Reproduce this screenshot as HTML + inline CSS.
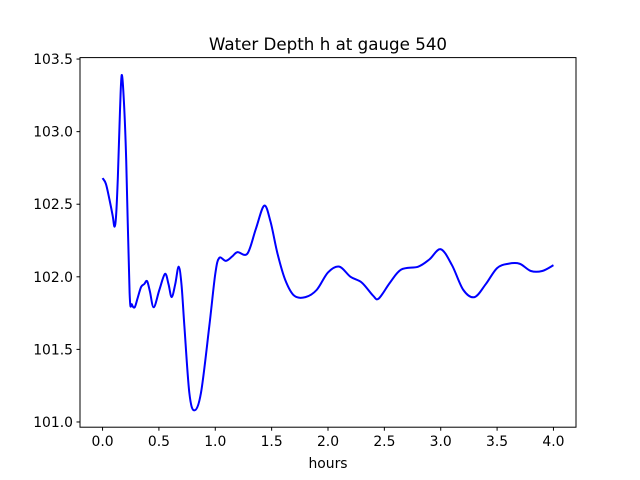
<!DOCTYPE html>
<html><head><meta charset="utf-8"><style>
body{margin:0;background:#fff;}
svg{display:block;font-family:"DejaVu Sans","Liberation Sans",sans-serif;}
</style></head><body>
<svg id="chart" width="640" height="480">
<rect width="640" height="480" fill="#fff"/>
<text x="328" y="50" font-size="16.7" text-anchor="middle">Water Depth h at gauge 540</text>
<g id="xticks"></g>
<g id="yticks"></g>
<path id="line" fill="none" stroke="#0000ff" stroke-width="2" stroke-linejoin="round"/>
<rect x="80" y="57.6" width="496" height="369.6" fill="none" stroke="#000" stroke-width="1"/>
<text x="328" y="468" font-size="13.9" text-anchor="middle">hours</text>
</svg>
<script>
const times=[0,0.03,0.062,0.09,0.106,0.12,0.136,0.155,0.17,0.19,0.21,0.24,0.26,0.285,0.31,0.342,0.37,0.395,0.42,0.454,0.504,0.554,0.585,0.613,0.645,0.675,0.7,0.726,0.77,0.814,0.873,0.947,1.0,1.035,1.094,1.15,1.197,1.285,1.36,1.434,1.49,1.552,1.62,1.7,1.8,1.9,2.0,2.1,2.2,2.3,2.4,2.45,2.55,2.65,2.8,2.9,3.0,3.1,3.2,3.3,3.4,3.5,3.6,3.7,3.8,3.9,4.0];
const depths=[102.68,102.64,102.53,102.42,102.345,102.42,102.69,103.15,103.39,103.2,102.8,101.89,101.81,101.79,101.85,101.93,101.95,101.97,101.9,101.79,101.91,102.02,101.95,101.86,101.95,102.07,101.95,101.66,101.2,101.08,101.2,101.66,102.02,102.13,102.11,102.14,102.17,102.16,102.33,102.49,102.38,102.16,101.98,101.87,101.86,101.91,102.03,102.07,102.0,101.96,101.87,101.85,101.96,102.05,102.07,102.12,102.19,102.08,101.91,101.86,101.95,102.06,102.09,102.09,102.04,102.04,102.08];
const xTickLabels=["0.0","0.5","1.0","1.5","2.0","2.5","3.0","3.5","4.0"];
const yTickLabels=["101.0","101.5","102.0","102.5","103.0","103.5"];
const X0=80,X1=576,Y0=427.2,Y1=57.6,xmin=-0.2,xmax=4.2,ymin=100.964,ymax=103.51;
const sx=v=>X0+(v-xmin)/(xmax-xmin)*(X1-X0);
const sy=v=>Y0-(v-ymin)/(ymax-ymin)*(Y0-Y1);
const NS="http://www.w3.org/2000/svg";
const xg=document.getElementById('xticks'),yg=document.getElementById('yticks');
xTickLabels.forEach(l=>{const x=sx(parseFloat(l));
 const t=document.createElementNS(NS,'line');t.setAttribute('x1',x);t.setAttribute('x2',x);t.setAttribute('y1',Y0);t.setAttribute('y2',Y0+3.5);t.setAttribute('stroke','#000');
 
 
 xg.appendChild(t);
 const tx=document.createElementNS(NS,'text');tx.setAttribute('x',x);tx.setAttribute('y',Y0+19);tx.setAttribute('font-size','13.9');tx.setAttribute('text-anchor','middle');tx.textContent=l;
 
 
 xg.appendChild(tx);});
yTickLabels.forEach(l=>{const y=sy(parseFloat(l));
 const t=document.createElementNS(NS,'line');t.setAttribute('x1',X0-3.5);t.setAttribute('x2',X0);t.setAttribute('y1',y);t.setAttribute('y2',y);t.setAttribute('stroke','#000');
 
 
 yg.appendChild(t);
 const tx=document.createElementNS(NS,'text');tx.setAttribute('x',X0-7);tx.setAttribute('y',y+5);tx.setAttribute('font-size','13.9');tx.setAttribute('text-anchor','end');tx.textContent=l;
 
 
 yg.appendChild(tx);});
const P=times.map((t,i)=>[sx(t),sy(depths[i])]);
let d='M'+P[0][0]+','+P[0][1];
for(let i=0;i<P.length-1;i++){const p0=P[Math.max(0,i-1)],p1=P[i],p2=P[i+1],p3=P[Math.min(P.length-1,i+2)];
 const c1=[p1[0]+(p2[0]-p0[0])/6,p1[1]+(p2[1]-p0[1])/6],c2=[p2[0]-(p3[0]-p1[0])/6,p2[1]-(p3[1]-p1[1])/6];
 d+=' C'+c1+' '+c2+' '+p2;}
document.getElementById('line').setAttribute('d',d);
</script>
</body></html>
